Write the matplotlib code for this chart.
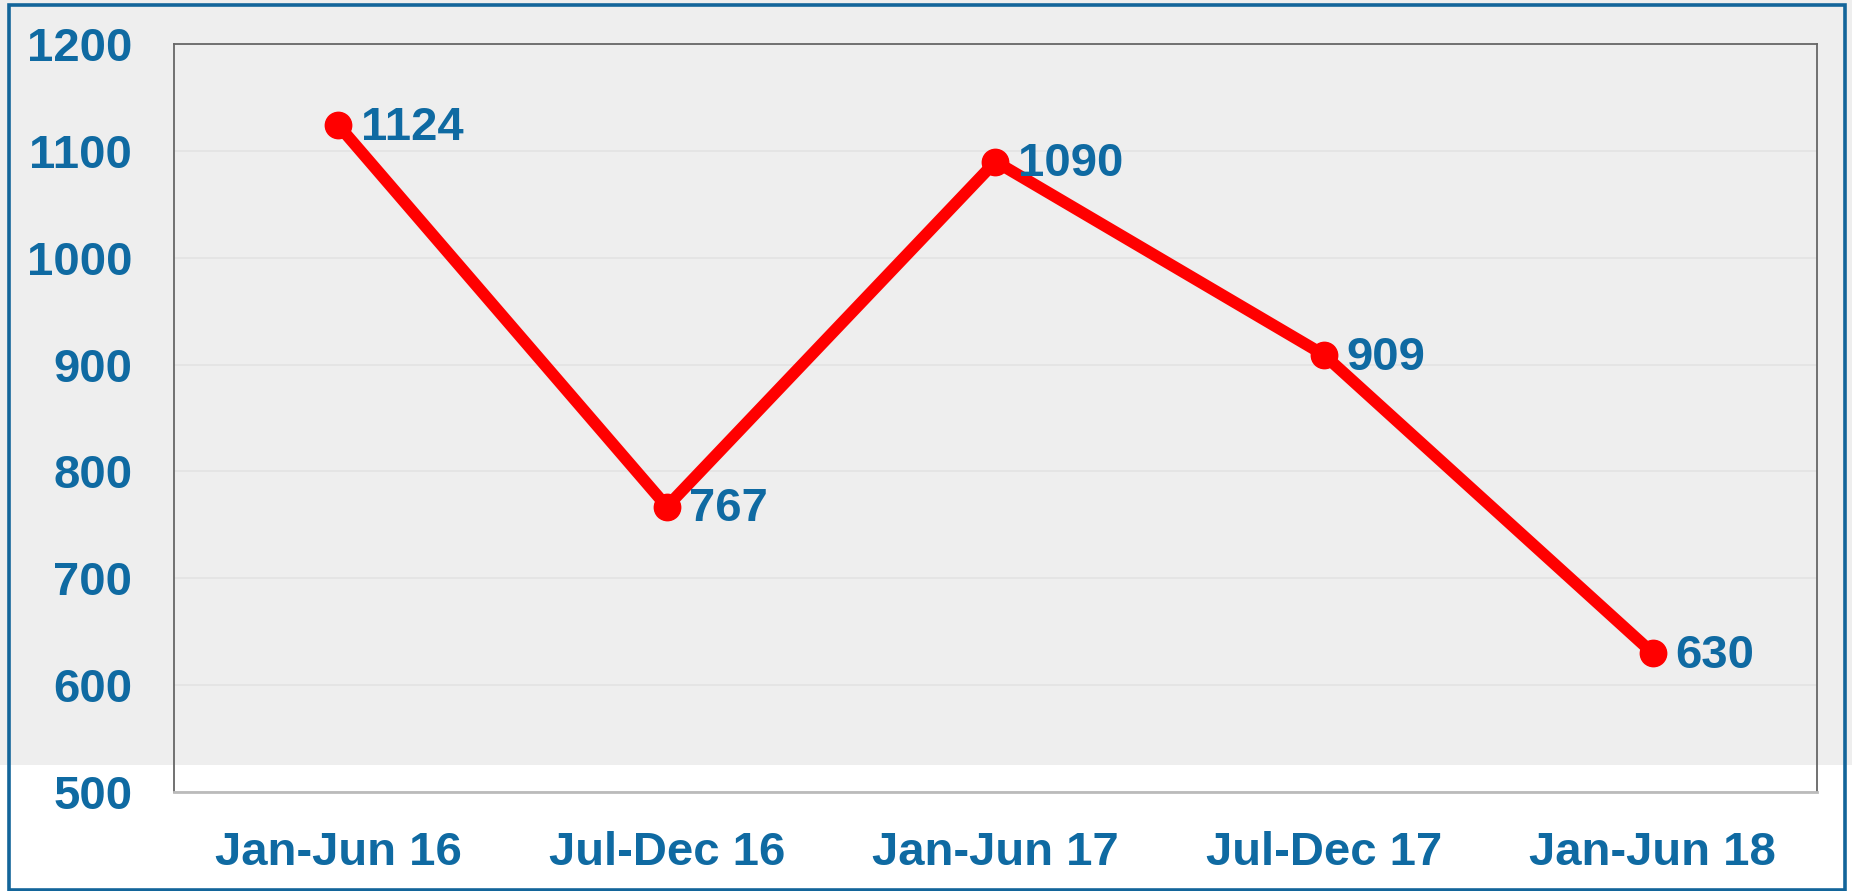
import matplotlib.pyplot as plt
from matplotlib.patches import Rectangle

# Données
periodes = ['Jan-Jun 16', 'Jul-Dec 16', 'Jan-Jun 17', 'Jul-Dec 17', 'Jan-Jun 18']
valeurs = [1124, 767, 1090, 909, 630]
yticks = [500, 600, 700, 800, 900, 1000, 1100, 1200]

bleu = '#0F6AA2'
W, H = 1852, 891

plt.rcParams['font.family'] = ['Liberation Sans', 'DejaVu Sans']
plt.rcParams['font.weight'] = 'bold'

fig = plt.figure(figsize=(W / 100, H / 100), dpi=100)
fig.patch.set_facecolor('white')

# Fond gris (haut) et cadre bleu
fig.add_artist(Rectangle((0, (H - 765) / H), 1, 765 / H, transform=fig.transFigure,
                         facecolor='#EEEEEE', edgecolor='none', zorder=-10))
fig.add_artist(Rectangle((9 / W, 1.5 / H), (1845 - 9) / W, (886 - 1.5) / H,
                         transform=fig.transFigure, facecolor='none',
                         edgecolor='#13659A', linewidth=2.6, zorder=10))

ax = fig.add_axes([174 / W, (H - 792) / H, (1817 - 174) / W, (792 - 44) / H])
ax.set_facecolor('none')
ax.set_zorder(1)

x = list(range(len(periodes)))
ax.plot(x, valeurs, color='#FF0000', linewidth=8.5, marker='o', markersize=19,
        solid_capstyle='round', zorder=3)

for xi, v in zip(x, valeurs):
    ax.annotate(str(v), (xi, v), xytext=(16, -2), textcoords='offset points',
                va='center', ha='left', color=bleu, fontsize=34, fontweight='bold')

ax.set_xlim(-0.5, len(periodes) - 0.5)
ax.set_ylim(500, 1200)
ax.set_yticks(yticks)
ax.set_xticks(x)
ax.set_xticklabels(periodes)
ax.tick_params(axis='both', length=0, labelsize=34, labelcolor=bleu)
ax.tick_params(axis='y', pad=30)
ax.tick_params(axis='x', pad=28)
for lab in ax.get_xticklabels() + ax.get_yticklabels():
    lab.set_fontweight('bold')

ax.grid(axis='y', color='#E2E2E2', linewidth=1.2)
ax.set_axisbelow(True)

for s in ['left', 'top', 'right']:
    ax.spines[s].set_color('#666666')
    ax.spines[s].set_linewidth(1.3)
ax.spines['bottom'].set_color('#BBBBBB')
ax.spines['bottom'].set_linewidth(2)

plt.savefig('out.png', dpi=100)
